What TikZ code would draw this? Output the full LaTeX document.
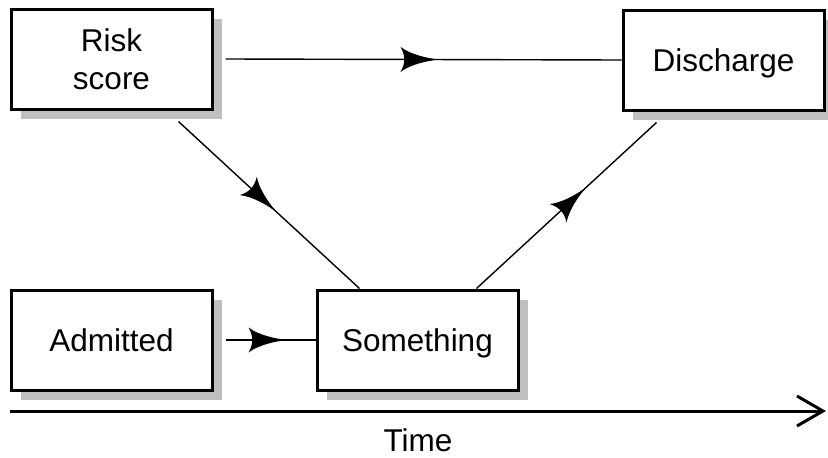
\documentclass[tikz,border=0pt]{standalone}
\usepackage{fontspec}
\setmainfont{Liberation Sans}
\usetikzlibrary{shadows,decorations.markings,arrows.meta,calc}

\begin{document}
\begin{tikzpicture}[x=1pt,y=-1pt,
  box/.style={draw=black, line width=3pt, fill=white, rectangle,
    minimum width=201pt, minimum height=100pt, align=center,
    font=\fontsize{31.5}{38}\selectfont,
    drop shadow={shadow xshift=9.5pt, shadow yshift=-9.5pt,
      fill=black!25, opacity=1}},
  oneline/.style={text height=23pt, text depth=0pt},
  flow/.style={line width=1.4pt, postaction={decorate},
    decoration={markings, mark=at position #1 with {\fill[black]
      (0,0) .. controls (-12,1.5) and (-28,5) .. (-38,12.5)
      .. controls (-33,4) and (-33,-4) .. (-38,-12.5)
      .. controls (-28,-5) and (-12,-1.5) .. (0,0);}}},
  lbl/.style={font=\fontsize{31.5}{38}\selectfont, text height=23pt, text depth=0pt, inner sep=0pt}
]
\useasboundingbox (0,0) rectangle (828,458);

% boxes
\node[box] (risk) at (111.5,59) {Risk\\score};
\node[box, oneline] (dis)  at (723.5,60) {Discharge};
\node[box, oneline] (adm)  at (111.5,340) {Admitted};
\node[box, oneline] (som)  at (417.5,340) {Something};

% connectors with mid-line heads
\draw[flow=213pt] ($(risk.east)+(12pt,0)$) -- (dis.west);
\draw[flow=61pt]  ($(adm.east)+(12pt,0)$) -- (som.west);
\draw[flow=133pt] ($(risk.south east)+(-35pt,-11pt)$) -- ($(som.north west)+(44pt,0)$);
\draw[flow=149pt] ($(som.north east)+(-43pt,0)$) -- ($(dis.south west)+(35pt,-11pt)$);

% time axis
\coordinate (t0) at (10,411);
\coordinate (t1) at (826,411);
\draw[line width=3pt, -{Straight Barb[length=26pt, width=30pt, line width=3pt]}] (t0) -- (t1);
\node[lbl] (time) at (418,440) {Time};
\end{tikzpicture}
\end{document}
